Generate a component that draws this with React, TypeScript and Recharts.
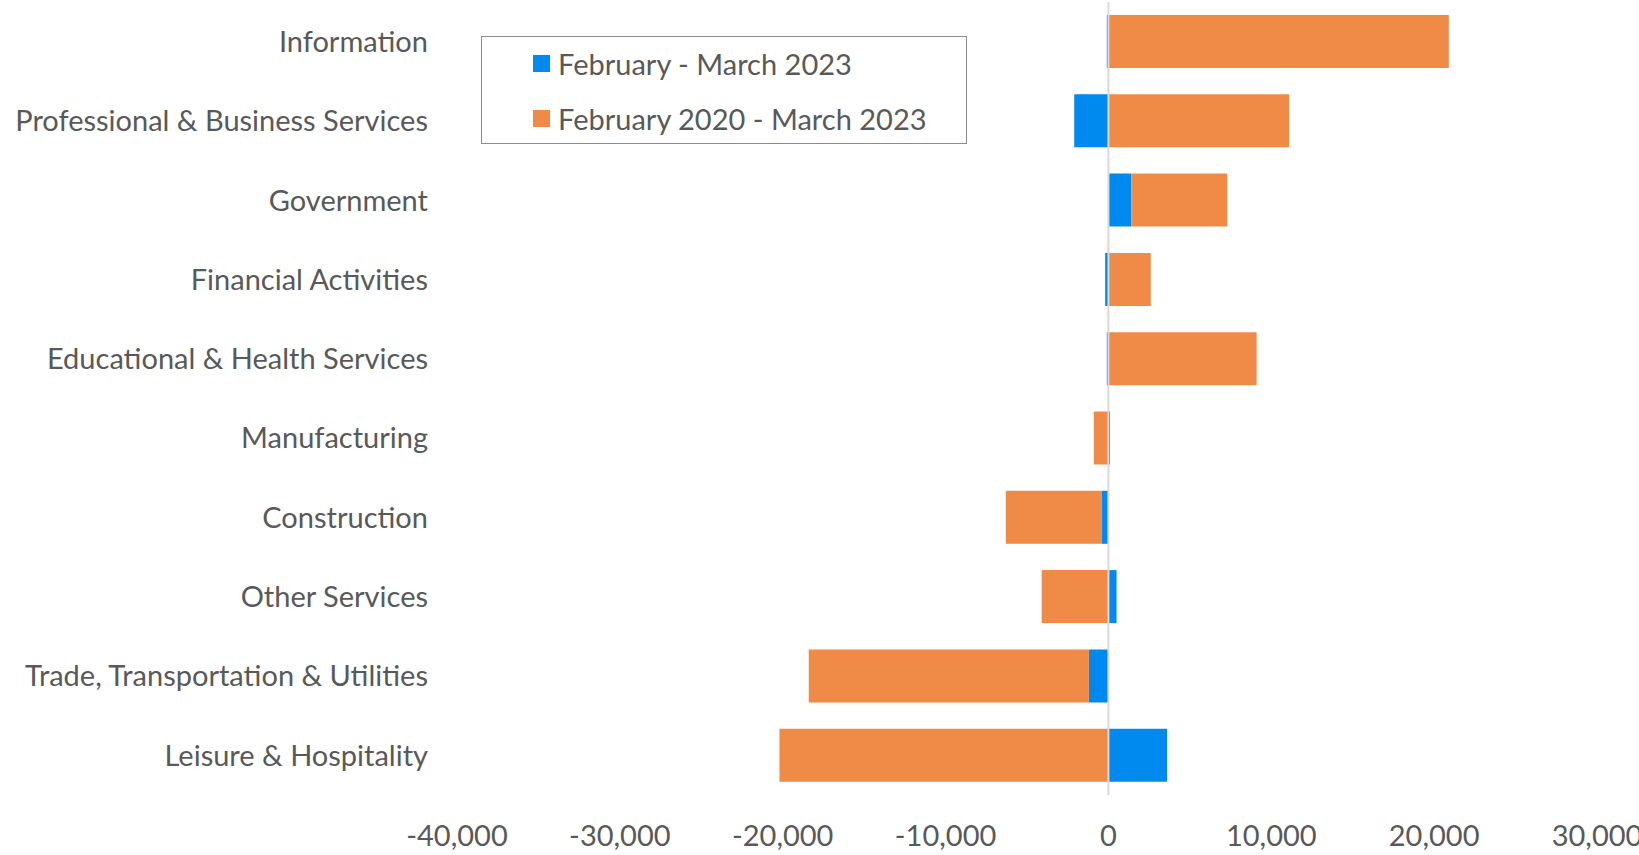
import { BarChart, Bar, XAxis, YAxis, ReferenceLine } from 'recharts';

const categories = [
  'Information',
  'Professional & Business Services',
  'Government',
  'Financial Activities',
  'Educational & Health Services',
  'Manufacturing',
  'Construction',
  'Other Services',
  'Trade, Transportation & Utilities',
  'Leisure & Hospitality',
];

// February - March 2023
const recentChange = [-100, -2100, 1400, -200, -100, 100, -400, 500, -1200, 3600];
// February 2020 - March 2023
const sinceFeb2020 = [20900, 11100, 5900, 2600, 9100, -900, -5900, -4100, -17200, -20200];

const xTicks = [-40000, -30000, -20000, -10000, 0, 10000, 20000, 30000];

const seriesNames = ['February - March 2023', 'February 2020 - March 2023'];
const BLUE = '#0089EF';
const ORANGE = '#EF8A47';
const TEXT = '#595959';
const FONT = 'Lato, "Open Sans", sans-serif';
const FS = 29;

const data = categories.map((name, i) => ({
  name,
  recent: recentChange[i],
  since: sinceFeb2020[i],
}));

const LegendBox = () => (
  <div
    style={{
      position: 'absolute',
      left: 481,
      top: 36,
      width: 486,
      height: 108,
      border: '1.5px solid #8c8c8c',
      boxSizing: 'border-box',
      background: '#fff',
      fontFamily: FONT,
      fontSize: FS,
      color: TEXT,
      paddingLeft: 51,
    }}
  >
    {[BLUE, ORANGE].map((c, i) => (
      <div key={i} style={{ display: 'flex', alignItems: 'center', height: 53, marginTop: i === 0 ? 0 : 2 }}>
        <div style={{ width: 17, height: 17, background: c, marginRight: 8 }} />
        <span>{seriesNames[i]}</span>
      </div>
    ))}
  </div>
);

export default function App() {
  return (
    <div style={{ position: 'absolute', left: 0, top: 0, width: 1639, height: 855, background: '#fff' }}>
      <BarChart
        width={1639}
        height={855}
        data={data}
        layout="vertical"
        stackOffset="sign"
        margin={{ top: 2, right: 42, left: 0, bottom: 0 }}
      >
        <XAxis
          type="number"
          domain={[-40000, 30000]}
          ticks={xTicks}
          tickFormatter={(v: number) => v.toLocaleString('en-US')}
          axisLine={false}
          tickLine={false}
          tickSize={0}
          tickMargin={30}
          height={60}
          interval={0}
          tick={{ fontSize: FS, fill: TEXT, fontFamily: FONT }}
        />
        <YAxis
          type="category"
          dataKey="name"
          width={457}
          axisLine={false}
          tickLine={false}
          tickSize={0}
          tickMargin={29}
          interval={0}
          tick={{ fontSize: FS, fill: TEXT, fontFamily: FONT }}
        />
        <Bar dataKey="recent" stackId="a" fill={BLUE} barSize={53} isAnimationActive={false} />
        <Bar dataKey="since" stackId="a" fill={ORANGE} barSize={53} isAnimationActive={false} />
        <ReferenceLine x={0} stroke="#D9D9D9" strokeWidth={2} />
      </BarChart>
      <LegendBox />
    </div>
  );
}
